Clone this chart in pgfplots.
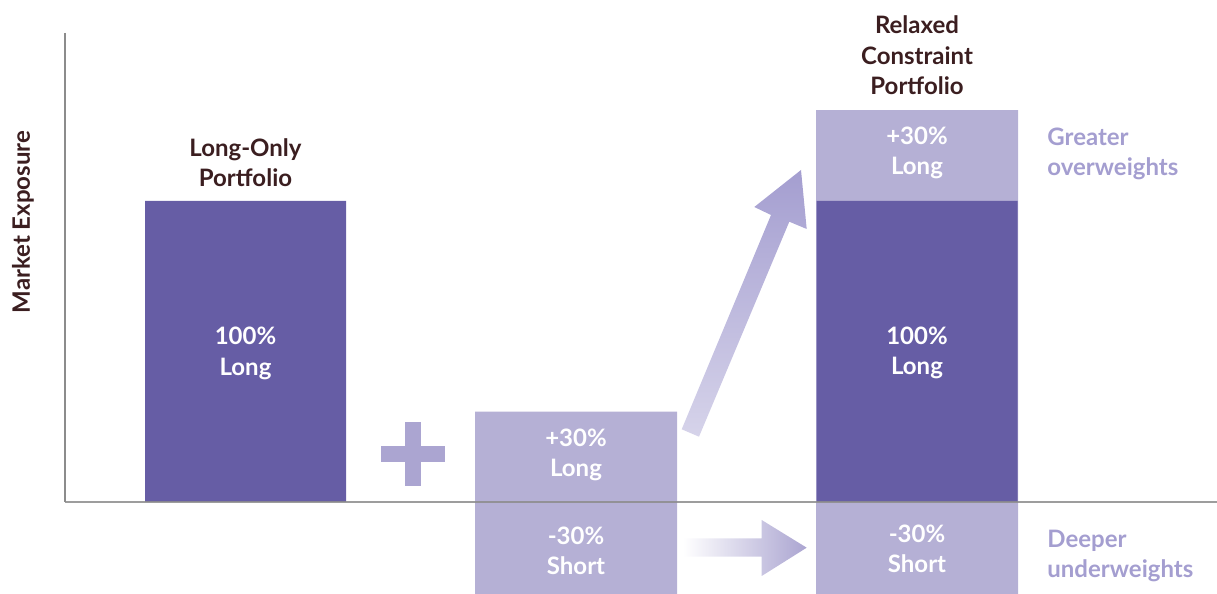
\documentclass[border=0pt]{standalone}
\usepackage{pgfplots}
\pgfplotsset{compat=1.18}
\usepackage{fontspec}
\setmainfont{Lato}
\definecolor{darkbar}{HTML}{665DA5}
\definecolor{lightbar}{HTML}{B5B0D5}
\definecolor{txtbrown}{HTML}{3B1E20}
\definecolor{lav}{HTML}{A49ED0}
\definecolor{plusc}{HTML}{ABA5D1}
\definecolor{axisgray}{HTML}{8C8C8C}
\newcommand{\pxy}[2]{(axis cs:#1,{(502-#2)/3.01})}
\tikzset{lbl/.style={font=\fontsize{12}{15.3}\selectfont\bfseries,inner sep=0pt}}
\begin{document}
\begin{tikzpicture}
\begin{axis}[width=608.5pt,height=297pt,scale only axis,
  xmin=0,xmax=1217,ymin=-30.565,ymax=166.777,
  axis lines=none,ticks=none,clip=false]
% light bars (30% long / short, and the total 130% of the relaxed portfolio)
\addplot[ybar,bar width=202,bar shift=0pt,fill=lightbar,draw=none]
  coordinates {(576,30) (576,-30.5) (917,130.2) (917,-30.5)};
% dark bars (100% long)
\addplot[ybar,bar width=201,bar shift=0pt,fill=darkbar,draw=none]
  coordinates {(245.5,100) (917,100)};
% axes
\draw[axisgray,line width=1pt] \pxy{65}{33} -- \pxy{65}{502};
\draw[axisgray,line width=1pt,opacity=0.85] \pxy{65}{502} -- \pxy{1217}{502};
% plus sign
\fill[plusc] \pxy{405}{421.7} rectangle \pxy{421}{486};
\fill[plusc] \pxy{381}{446} rectangle \pxy{445.3}{461.7};
% diagonal arrow
\shade[top color=lav, bottom color=lav!45!white]
  \pxy{681.7}{429.3} -- \pxy{771}{215} -- \pxy{754.3}{207} -- \pxy{801}{170}
  -- \pxy{806.7}{229} -- \pxy{789.3}{221.7} -- \pxy{699}{436.7} -- cycle;
% horizontal arrow
\shade[left color=white, right color=plusc]
  \pxy{683}{538.3} -- \pxy{761.7}{538.3} -- \pxy{761.7}{520} -- \pxy{806.7}{547.7}
  -- \pxy{761.7}{576} -- \pxy{761.7}{556.7} -- \pxy{683}{556.7} -- cycle;
% texts
\node[lbl,txtbrown,align=center] at \pxy{245.5}{162.5} {Long-Only\\Portfolio};
\node[lbl,white,align=center] at \pxy{245.5}{353.5} {100\%\\Long};
\node[lbl,white,align=center] at \pxy{576}{455} {+30\%\\Long};
\node[lbl,white,align=center] at \pxy{576}{551} {-30\%\\Short};
\node[lbl,txtbrown,align=center] at \pxy{917}{55.5} {Relaxed\\Constraint\\Portfolio};
\node[lbl,white,align=center] at \pxy{917}{153} {+30\%\\Long};
\node[lbl,white,align=center] at \pxy{917}{353} {100\%\\Long};
\node[lbl,white,align=center] at \pxy{917}{549} {-30\%\\Short};
\node[lbl,lav,align=left,anchor=west] at \pxy{1047}{154} {Greater\\overweights};
\node[lbl,lav,align=left,anchor=west] at \pxy{1047}{556} {Deeper\\underweights};
\node[lbl,txtbrown,rotate=90] at \pxy{23}{222} {Market Exposure};
\end{axis}
\pgfresetboundingbox
\path (0,0) rectangle (608.5pt,297pt);
\end{tikzpicture}
\end{document}
